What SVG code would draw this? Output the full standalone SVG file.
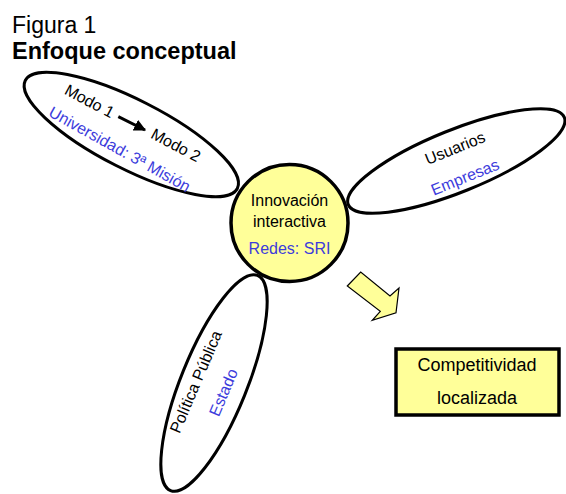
<svg xmlns="http://www.w3.org/2000/svg" width="566" height="494" viewBox="0 0 566 494">
<style>
text{font-family:"Liberation Sans",Arial,sans-serif;}
.blk{fill:#000;}
.blu{fill:#3c3cdc;}
.ell{fill:#fff;stroke:#000;stroke-width:3;}
.yel{fill:#ffff99;stroke:#000;}
.t16{font-size:16px;}
</style>
<defs>
<marker id="ah" viewBox="0 0 10 10" refX="9" refY="5" markerWidth="4" markerHeight="4" orient="auto" markerUnits="strokeWidth">
<path d="M0,0 L10,5 L0,10 z" fill="#000"/>
</marker>
</defs>
<g id="title">
<text x="12" y="32.5" font-size="23">Figura 1</text>
<text x="12" y="59" font-size="23.5" font-weight="bold">Enfoque conceptual</text>
</g>
<g id="universidad">
<ellipse class="ell" cx="131.3" cy="134.5" rx="119" ry="34.5" transform="rotate(27 131.3 134.5)"/>
<text class="blk t16" x="87" y="106" text-anchor="middle" transform="rotate(28 87 106)">Modo 1</text>
<text class="blk t16" x="173.4" y="150" text-anchor="middle" transform="rotate(28 173.4 150)">Modo 2</text>
<text class="blu t16" x="117" y="154" text-anchor="middle" transform="rotate(29 117 154)">Universidad: 3ª Misión</text>
</g>
<g id="usuarios">
<ellipse class="ell" cx="456.3" cy="161" rx="116.5" ry="31" transform="rotate(-22 456.3 161)"/>
<text class="blk t16" x="457.1" y="153.2" text-anchor="middle" transform="rotate(-22 457.1 153.2)">Usuarios</text>
<text class="blu t16" x="467.1" y="182.2" text-anchor="middle" transform="rotate(-22 467.1 182.2)">Empresas</text>
</g>
<g id="politica">
<ellipse class="ell" cx="214" cy="383" rx="116" ry="33" transform="rotate(-68 214 383)"/>
<text class="blk t16" x="200.9" y="383.9" text-anchor="middle" transform="rotate(-67 200.9 383.9)">Política Pública</text>
<text class="blu t16" x="228.5" y="394.5" text-anchor="middle" transform="rotate(-67 228.5 394.5)">Estado</text>
</g>
<g id="innovacion">
<circle class="yel" cx="289.5" cy="223" r="58.5" stroke-width="3.5"/>
<text class="blk t16" x="289.5" y="206" text-anchor="middle">Innovación</text>
<text class="blk t16" x="289.5" y="227" text-anchor="middle">interactiva</text>
<text class="blu t16" x="289.5" y="254" text-anchor="middle">Redes: SRI</text>
</g>
<g id="competitividad">
<rect class="yel" x="396" y="349" width="163" height="66" stroke-width="3.5"/>
<text x="477" y="370.5" font-size="18" text-anchor="middle">Competitividad</text>
<text x="477" y="404" font-size="18" text-anchor="middle">localizada</text>
</g>
<g id="connectors">
<line x1="118.3" y1="116.7" x2="145" y2="130" stroke="#000" stroke-width="3" marker-end="url(#ah)"/>
<polygon class="yel" stroke-width="1.2" points="347.3,286 360.7,272 390,296 399,288 396,312.7 372.3,320.3 380.3,311.3"/>
</g>
</svg>
